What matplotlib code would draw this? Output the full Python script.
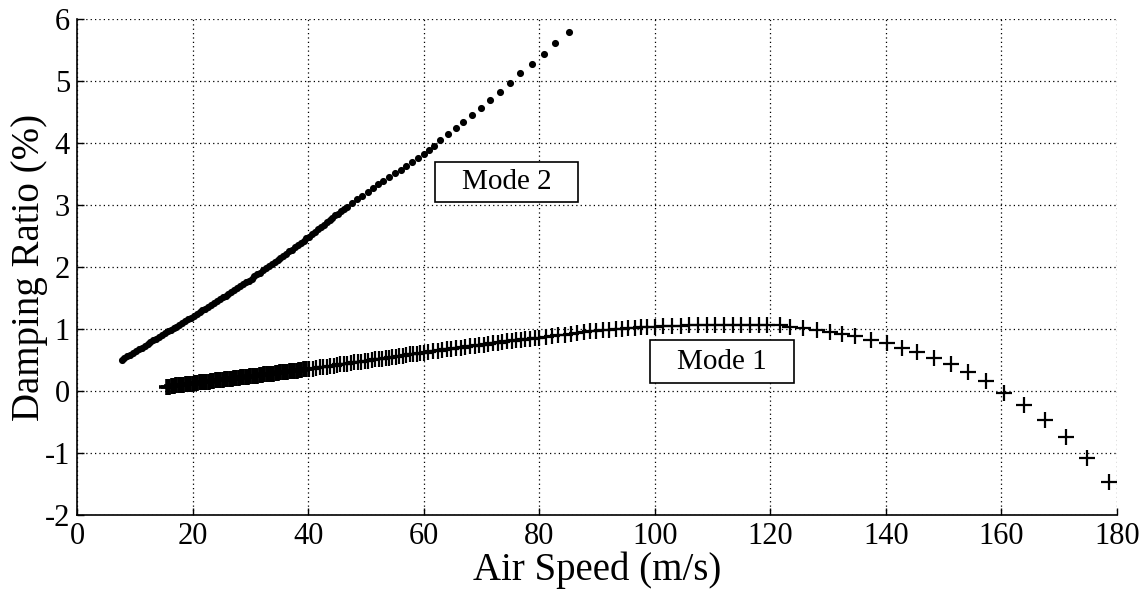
import matplotlib
matplotlib.use("Agg")
import matplotlib.pyplot as plt
from matplotlib.patches import Rectangle

plt.rcParams["font.family"] = ["Liberation Serif", "DejaVu Serif"]
plt.rcParams["axes.unicode_minus"] = False

# ------------------------------------------------------------
# Data (air speed in m/s, damping ratio in %)
# ------------------------------------------------------------
# Mode 1, low-speed part (points so dense they merge into a band)
mode1_speed_low = [
    15.6, 16.0, 16.4, 16.8, 17.2, 17.6, 18.0, 18.4, 18.8, 19.2,
    19.6, 20.0, 20.4, 20.8, 21.2, 21.6, 22.0, 22.4, 22.8, 23.2,
    23.6, 24.0, 24.4, 24.8, 25.2, 25.6, 26.0, 26.4, 26.8, 27.2,
    27.6, 28.0, 28.4, 28.8, 29.2, 29.6, 30.0, 30.4, 30.8, 31.2,
    31.6, 32.0, 32.4, 32.8, 33.2, 33.6, 34.0, 34.4, 34.8, 35.2,
    35.6, 36.0, 36.4, 36.8, 37.2, 37.6, 38.0, 38.4, 38.8, 39.2,
    39.6,
]
mode1_damping_low = [
    0.07, 0.07, 0.08, 0.08, 0.09, 0.09, 0.10, 0.10, 0.11, 0.11,
    0.12, 0.12, 0.13, 0.13, 0.14, 0.14, 0.14, 0.15, 0.15, 0.16,
    0.16, 0.17, 0.17, 0.18, 0.18, 0.19, 0.19, 0.20, 0.20, 0.21,
    0.21, 0.21, 0.22, 0.22, 0.23, 0.23, 0.24, 0.24, 0.25, 0.25,
    0.26, 0.26, 0.27, 0.27, 0.28, 0.28, 0.28, 0.29, 0.29, 0.30,
    0.30, 0.31, 0.31, 0.32, 0.32, 0.33, 0.33, 0.34, 0.34, 0.35,
    0.35,
]

# Mode 1, from 40 m/s upwards
mode1_speed = [
    40.2, 40.8, 41.4, 42.0, 42.6, 43.2, 43.8, 44.4, 45.0, 45.6,
    46.2, 46.8, 47.4, 48.0, 48.6, 49.2, 49.8, 50.4, 51.0, 51.6,
    52.2, 52.8, 53.4, 54.0, 54.6, 55.2, 55.8, 56.4, 57.0, 57.6,
    58.2, 58.8, 59.4,
    60.0, 60.8, 61.6, 62.4, 63.2, 64.0, 64.8, 65.6, 66.4, 67.2,
    68.0, 68.8, 69.6, 70.4, 71.2, 72.0, 72.8, 73.6, 74.4, 75.2,
    76.0, 76.8, 77.6, 78.4, 79.2,
    80.0, 81.1, 82.2, 83.3, 84.4, 85.5, 86.6, 87.7, 88.8, 89.9,
    91.0, 92.1, 93.2, 94.3, 95.4, 96.5, 97.6, 98.7,
    100.0, 101.5, 103.0, 104.5, 106.0, 107.5, 109.0, 110.5, 112.0, 113.5,
    115.0, 116.5, 118.0, 119.5,
    121.7, 123.4, 125.6, 128.0, 130.3, 132.4, 134.6, 137.4, 140.2, 142.8,
    145.4, 148.3, 151.3, 154.2, 157.3, 160.4, 163.9, 167.5, 171.2, 174.8,
    178.6,
]
mode1_damping = [
    0.35, 0.36, 0.37, 0.38, 0.39, 0.39, 0.40, 0.41, 0.42, 0.43,
    0.43, 0.44, 0.45, 0.46, 0.47, 0.47, 0.48, 0.49, 0.50, 0.51,
    0.51, 0.52, 0.53, 0.54, 0.55, 0.55, 0.56, 0.57, 0.58, 0.59,
    0.60, 0.60, 0.61,
    0.62, 0.63, 0.64, 0.65, 0.66, 0.67, 0.68, 0.69, 0.70, 0.71,
    0.72, 0.73, 0.74, 0.75, 0.76, 0.77, 0.78, 0.79, 0.80, 0.81,
    0.82, 0.83, 0.84, 0.845, 0.85,
    0.86, 0.87, 0.89, 0.90, 0.91, 0.925, 0.94, 0.95, 0.96, 0.97,
    0.98, 0.99, 1.00, 1.005, 1.01, 1.02, 1.03, 1.035,
    1.04, 1.045, 1.05, 1.055, 1.06, 1.065, 1.07, 1.07, 1.07, 1.07,
    1.07, 1.07, 1.065, 1.06,
    1.06, 1.04, 1.01, 0.98, 0.95, 0.92, 0.88, 0.83, 0.77, 0.70,
    0.63, 0.53, 0.43, 0.31, 0.16, -0.03, -0.23, -0.47, -0.74, -1.08,
    -1.46,
]

mode2_speed = [
    7.7, 8.2, 8.7, 9.2, 9.7, 10.2, 10.7, 11.2, 11.7, 12.2,
    12.7, 13.2, 13.7, 14.2, 14.7, 15.2, 15.7, 16.2, 16.7, 17.2,
    17.7, 18.2, 18.7, 19.2, 19.7, 20.2, 20.7, 21.2, 21.7, 22.2,
    22.7, 23.2, 23.7, 24.2, 24.7, 25.2, 25.7, 26.2, 26.7, 27.2,
    27.7, 28.2, 28.7, 29.2, 29.7, 30.2, 30.7, 31.2, 31.7, 32.2,
    32.7, 33.2, 33.7, 34.2, 34.7, 35.2, 35.7, 36.2, 36.7, 37.2,
    37.7, 38.2, 38.7, 39.2, 39.7, 40.2, 40.7, 41.2, 41.7, 42.2,
    42.7, 43.2, 43.7, 44.2, 44.7, 45.2, 45.7, 46.2, 46.7,
    47.6, 48.5, 49.4, 50.3, 51.2, 52.1, 53.0, 54.0, 55.0, 56.0,
    57.0, 58.0, 59.0, 60.0, 61.0,
    61.8, 62.8, 64.2, 65.6, 66.8, 68.4, 69.9, 71.5, 73.2, 74.9,
    76.7, 78.7, 80.8, 82.7, 85.2,
]
mode2_damping = [
    0.50, 0.53, 0.56, 0.58, 0.61, 0.64, 0.67, 0.70, 0.73, 0.76,
    0.79, 0.82, 0.84, 0.87, 0.90, 0.93, 0.96, 0.99, 1.02, 1.04,
    1.07, 1.10, 1.13, 1.16, 1.18, 1.21, 1.24, 1.27, 1.30, 1.33,
    1.36, 1.39, 1.42, 1.45, 1.48, 1.51, 1.54, 1.57, 1.60, 1.63,
    1.66, 1.69, 1.72, 1.75, 1.78, 1.81, 1.85, 1.88, 1.91, 1.95,
    1.98, 2.01, 2.05, 2.08, 2.11, 2.14, 2.18, 2.21, 2.25, 2.28,
    2.32, 2.35, 2.39, 2.42, 2.46, 2.49, 2.53, 2.57, 2.61, 2.64,
    2.68, 2.72, 2.75, 2.79, 2.83, 2.86, 2.90, 2.94, 2.97,
    3.03, 3.09, 3.15, 3.21, 3.27, 3.33, 3.39, 3.45, 3.51, 3.57,
    3.63, 3.70, 3.76, 3.82, 3.89,
    3.95, 4.05, 4.15, 4.24, 4.34, 4.45, 4.57, 4.69, 4.82, 4.97,
    5.13, 5.27, 5.43, 5.61, 5.79,
]

x_ticks = [0, 20, 40, 60, 80, 100, 120, 140, 160, 180]
y_ticks = [-2, -1, 0, 1, 2, 3, 4, 5, 6]

# ------------------------------------------------------------
# Plot
# ------------------------------------------------------------
fig = plt.figure(figsize=(11.48, 5.90), dpi=100)
ax = fig.add_axes([0.0671, 0.127, 0.9059, 0.841])

ax.plot(mode2_speed, mode2_damping, linestyle="none", marker="o",
        markersize=4.1, color="k", zorder=3)
# overlapping markers at low speed merge into a solid band
ax.plot(mode1_speed_low, mode1_damping_low, linestyle="none", marker="+",
        markersize=11.5, markeredgewidth=2.6, color="k", zorder=3)
ax.plot(mode1_speed, mode1_damping, linestyle="none", marker="+",
        markersize=11.5, markeredgewidth=1.6, color="k", zorder=3)

ax.set_xlim(0, 180)
ax.set_ylim(-2, 6)
ax.set_xticks(x_ticks)
ax.set_yticks(y_ticks)

ax.spines["top"].set_visible(False)
ax.spines["right"].set_visible(False)
ax.spines["left"].set_linewidth(1.2)
ax.spines["bottom"].set_linewidth(1.2)
ax.tick_params(direction="in", length=5, width=1, labelsize=22, pad=5)
ax.grid(True, linestyle=(0, (1, 2.5)), color="k", linewidth=0.9)

# mode labels in boxes
for (x0, x1, y0, y1, label) in [(62.0, 86.7, 3.04, 3.70, "Mode 2"),
                                (99.2, 124.1, 0.13, 0.82, "Mode 1")]:
    ax.add_patch(Rectangle((x0, y0), x1 - x0, y1 - y0, facecolor="white",
                           edgecolor="k", linewidth=1.2, zorder=4))
    ax.text((x0 + x1) / 2, (y0 + y1) / 2, label, ha="center", va="center",
            fontsize=21, zorder=5)

ax.set_xlabel("Air Speed (m/s)", fontsize=28, labelpad=0)
ax.set_ylabel("Damping Ratio (%)", fontsize=28, labelpad=-2.5)

fig.savefig("out.png", dpi=100)
